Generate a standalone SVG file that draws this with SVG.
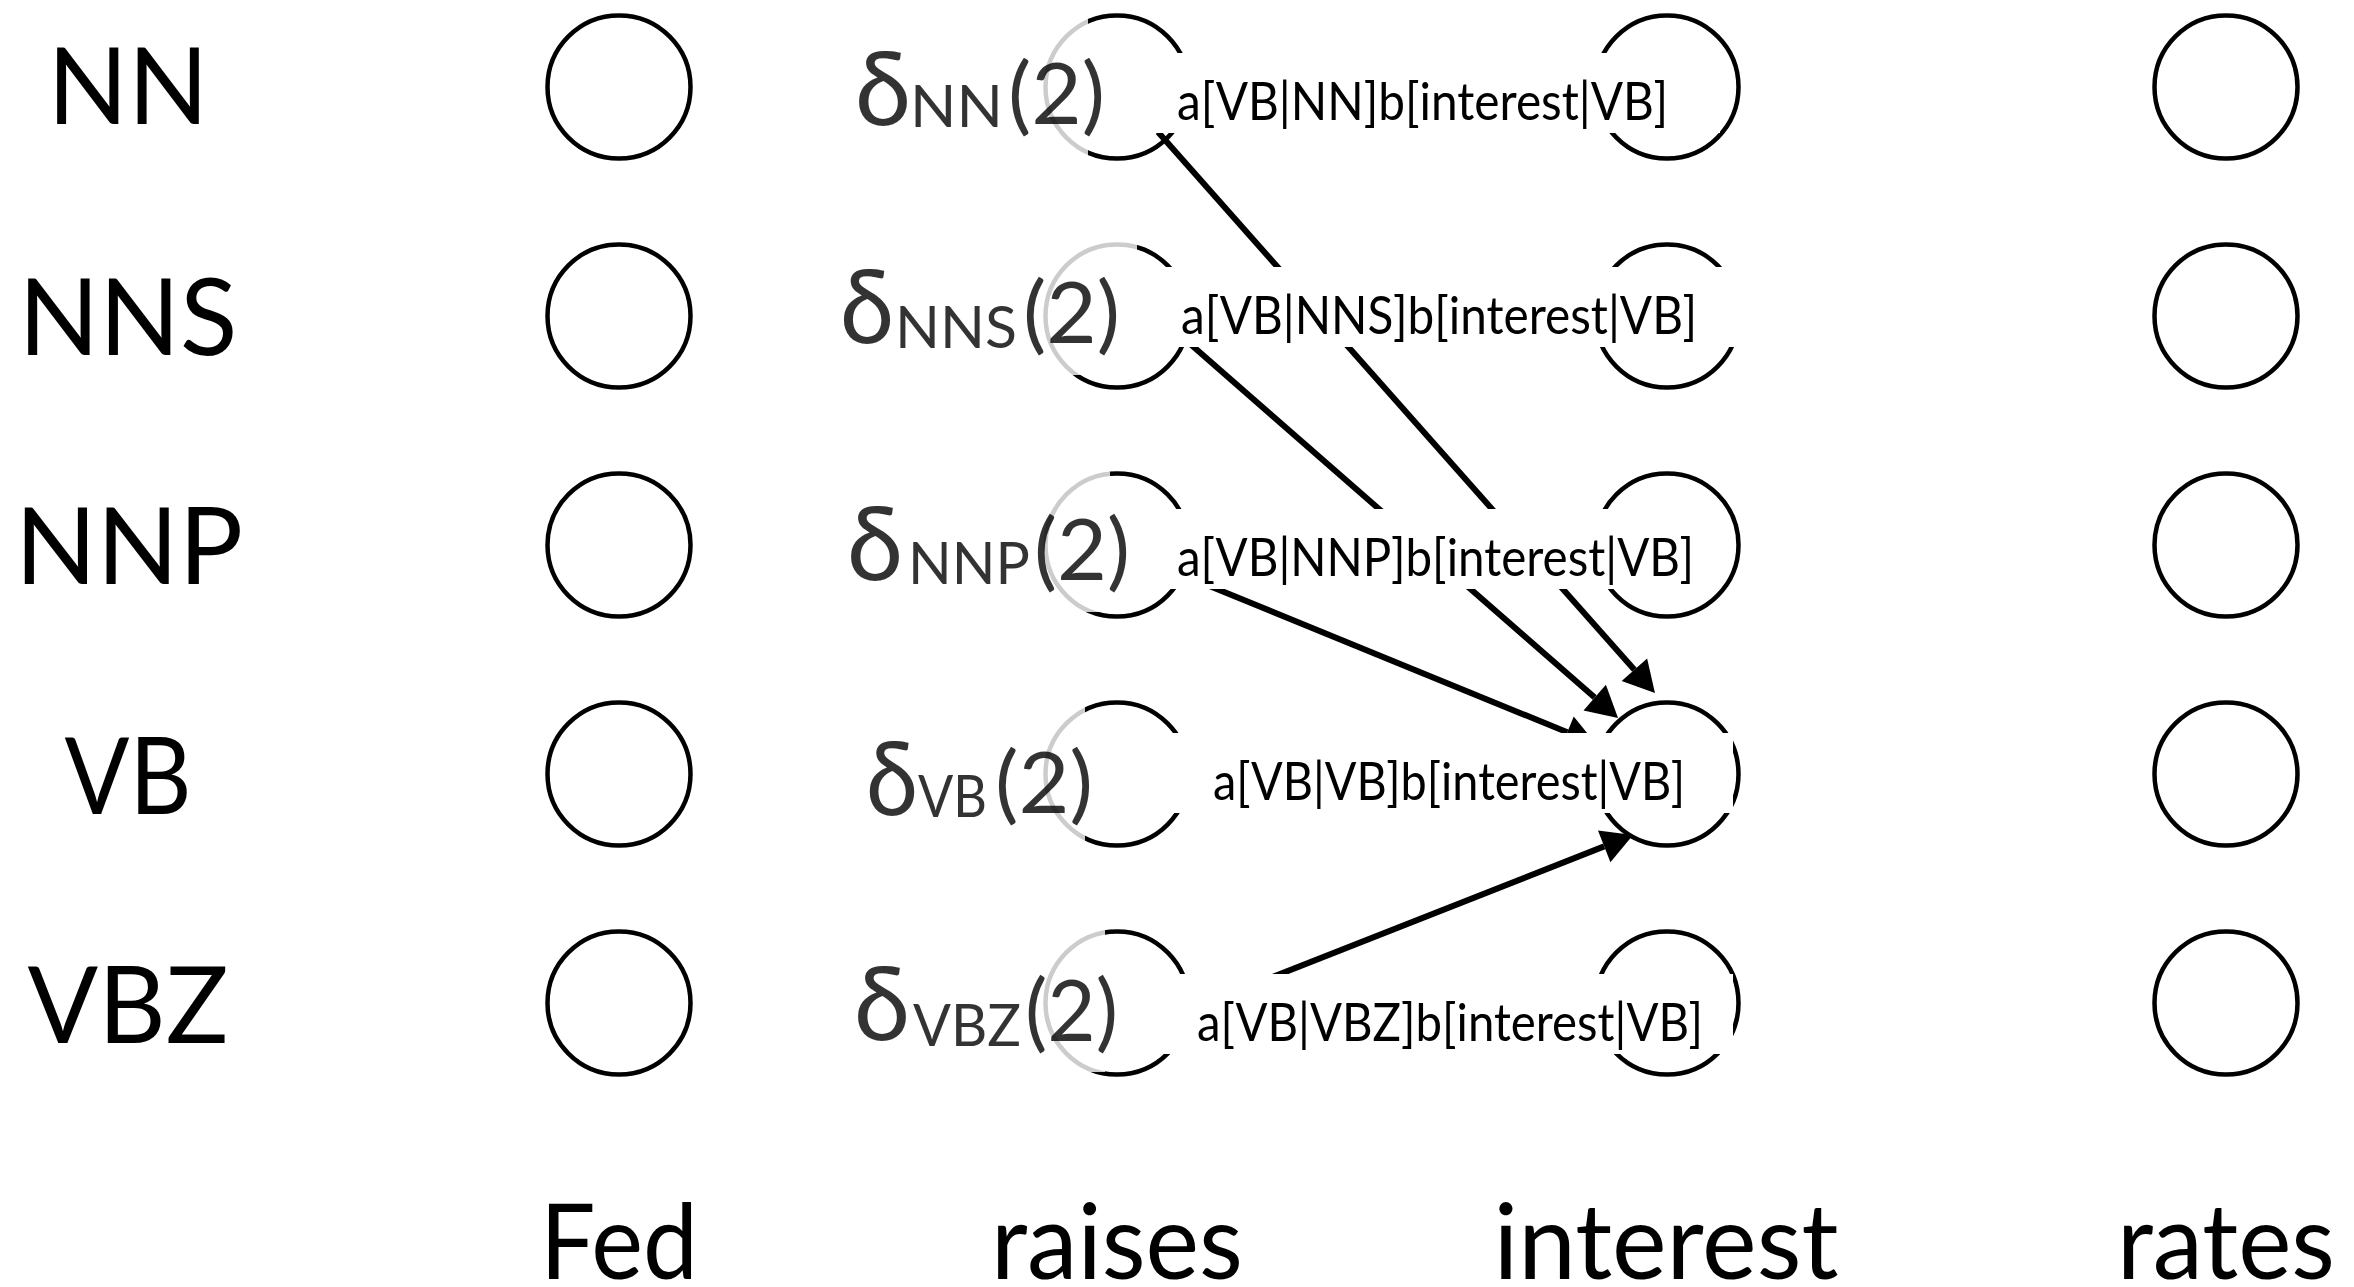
<svg xmlns="http://www.w3.org/2000/svg" width="2354" height="1287" viewBox="0 0 2354 1287">
  <defs>
    <style>
      .bg { fill: #ffffff; }
      .node circle { fill: none; stroke: #000000; stroke-width: 4.5; }
      .tag { font-family: Lato, "Noto Sans", sans-serif; font-size: 106px; fill: #000000; text-anchor: middle; }
      .word { font-family: Lato, "Noto Sans", sans-serif; font-size: 104px; fill: #000000; text-anchor: middle; }
      .edge { fill: none; stroke: #000000; stroke-width: 6; marker-end: url(#head); }
      .score-bg { fill: #ffffff; }
      .score { font-family: Lato, "Noto Sans", sans-serif; font-size: 52px; fill: #000000; }
      .delta-bg { fill: #ffffff; fill-opacity: 0.8; }
      .delta { font-family: Lato, "Noto Sans", sans-serif; fill: #000000; fill-opacity: 0.8; }
      .d-sym { font-size: 102px; }
      .d-sub { font-size: 58px; }
      .d-arg { font-size: 85px; }
    </style>
    <marker id="head" markerUnits="userSpaceOnUse" markerWidth="40" markerHeight="40" refX="0" refY="0" orient="auto" overflow="visible">
      <path d="M0,-17 L31,0 L0,17 Z" fill="#000000"/>
    </marker>
  </defs>

  <rect class="bg" x="0" y="0" width="2354" height="1287"/>

  <!-- tag names, one per lattice row -->
  <g id="tags">
    <text class="tag" x="128" y="124" textLength="161" lengthAdjust="spacingAndGlyphs">NN</text>
    <text class="tag" x="128" y="355" textLength="219" lengthAdjust="spacingAndGlyphs">NNS</text>
    <text class="tag" x="129" y="584" textLength="228" lengthAdjust="spacingAndGlyphs">NNP</text>
    <text class="tag" x="128" y="814" textLength="127" lengthAdjust="spacingAndGlyphs">VB</text>
    <text class="tag" x="128" y="1043" textLength="201" lengthAdjust="spacingAndGlyphs">VBZ</text>
  </g>

  <!-- words of the sentence, one per lattice column -->
  <g id="words">
    <text class="word" x="619" y="1279" textLength="158" lengthAdjust="spacingAndGlyphs">Fed</text>
    <text class="word" x="1117" y="1279" textLength="252" lengthAdjust="spacingAndGlyphs">raises</text>
    <text class="word" x="1666" y="1279" textLength="345" lengthAdjust="spacingAndGlyphs">interest</text>
    <text class="word" x="2226" y="1279" textLength="218" lengthAdjust="spacingAndGlyphs">rates</text>
  </g>

  <!-- lattice states: column = word, row = tag -->
  <g id="fed-NN" class="node"><circle cx="619" cy="87" r="71.5"/></g>
  <g id="fed-NNS" class="node"><circle cx="619" cy="316" r="71.5"/></g>
  <g id="fed-NNP" class="node"><circle cx="619" cy="545" r="71.5"/></g>
  <g id="fed-VB" class="node"><circle cx="619" cy="774" r="71.5"/></g>
  <g id="fed-VBZ" class="node"><circle cx="619" cy="1003" r="71.5"/></g>

  <g id="raises-NN" class="node"><circle cx="1117" cy="87" r="71.5"/></g>
  <g id="raises-NNS" class="node"><circle cx="1117" cy="316" r="71.5"/></g>
  <g id="raises-NNP" class="node"><circle cx="1117" cy="545" r="71.5"/></g>
  <g id="raises-VB" class="node"><circle cx="1117" cy="774" r="71.5"/></g>
  <g id="raises-VBZ" class="node"><circle cx="1117" cy="1003" r="71.5"/></g>

  <g id="interest-NN" class="node"><circle cx="1667" cy="87" r="71.5"/></g>
  <g id="interest-NNS" class="node"><circle cx="1667" cy="316" r="71.5"/></g>
  <g id="interest-NNP" class="node"><circle cx="1667" cy="545" r="71.5"/></g>
  <g id="interest-VB" class="node"><circle cx="1667" cy="774" r="71.5"/></g>
  <g id="interest-VBZ" class="node"><circle cx="1667" cy="1003" r="71.5"/></g>

  <g id="rates-NN" class="node"><circle cx="2226" cy="87" r="71.5"/></g>
  <g id="rates-NNS" class="node"><circle cx="2226" cy="316" r="71.5"/></g>
  <g id="rates-NNP" class="node"><circle cx="2226" cy="545" r="71.5"/></g>
  <g id="rates-VB" class="node"><circle cx="2226" cy="774" r="71.5"/></g>
  <g id="rates-VBZ" class="node"><circle cx="2226" cy="1003" r="71.5"/></g>

  <!-- transitions from every tag of "raises" into VB of "interest" -->
  <g id="edges">
    <path class="edge" d="M1158,132 L1634.4,669.8"/>
    <path class="edge" d="M1180,335 L1594.7,697.6"/>
    <path class="edge" d="M1180,574 L1567.3,732.3"/>
    <path class="edge" d="M1189,1010 L1604.2,846.4"/>
  </g>

  <!-- transition scores, on opaque white boxes -->
  <g id="scores">
    <g id="score-NN">
      <rect class="score-bg" x="1140" y="53" width="580" height="80"/>
      <text class="score" x="1177" y="120" textLength="491" lengthAdjust="spacingAndGlyphs">a[VB|NN]b[interest|VB]</text>
    </g>
    <g id="score-NNS">
      <rect class="score-bg" x="1140" y="267" width="610" height="80"/>
      <text class="score" x="1181" y="334" textLength="516" lengthAdjust="spacingAndGlyphs">a[VB|NNS]b[interest|VB]</text>
    </g>
    <g id="score-NNP">
      <rect class="score-bg" x="1140" y="509" width="580" height="80"/>
      <text class="score" x="1177" y="576" textLength="517" lengthAdjust="spacingAndGlyphs">a[VB|NNP]b[interest|VB]</text>
    </g>
    <g id="score-VB">
      <rect class="score-bg" x="1140" y="733" width="593" height="80"/>
      <text class="score" x="1213" y="800" textLength="472" lengthAdjust="spacingAndGlyphs">a[VB|VB]b[interest|VB]</text>
    </g>
    <g id="score-VBZ">
      <rect class="score-bg" x="1140" y="974" width="593" height="80"/>
      <text class="score" x="1197" y="1041" textLength="506" lengthAdjust="spacingAndGlyphs">a[VB|VBZ]b[interest|VB]</text>
    </g>
  </g>

  <!-- Viterbi values at "raises", on translucent boxes -->
  <g id="deltas">
    <g id="delta-NN">
      <rect class="delta-bg" x="850" y="13" width="238" height="144"/>
      <text class="delta d-sym" x="855" y="125" textLength="56" lengthAdjust="spacingAndGlyphs">δ</text>
      <text class="delta d-sub" x="910" y="127" textLength="93" lengthAdjust="spacingAndGlyphs">NN</text>
      <text class="delta d-arg" x="1008" y="124" textLength="97" lengthAdjust="spacingAndGlyphs">(2)</text>
    </g>
    <g id="delta-NNS">
      <rect class="delta-bg" x="835" y="231" width="302" height="144"/>
      <text class="delta d-sym" x="840" y="343" textLength="54" lengthAdjust="spacingAndGlyphs">δ</text>
      <text class="delta d-sub" x="895" y="348" textLength="122" lengthAdjust="spacingAndGlyphs">NNS</text>
      <text class="delta d-arg" x="1023" y="343" textLength="97" lengthAdjust="spacingAndGlyphs">(2)</text>
    </g>
    <g id="delta-NNP">
      <rect class="delta-bg" x="840" y="468" width="270" height="144"/>
      <text class="delta d-sym" x="847" y="580" textLength="56" lengthAdjust="spacingAndGlyphs">δ</text>
      <text class="delta d-sub" x="908" y="584" textLength="122" lengthAdjust="spacingAndGlyphs">NNP</text>
      <text class="delta d-arg" x="1034" y="580" textLength="96" lengthAdjust="spacingAndGlyphs">(2)</text>
    </g>
    <g id="delta-VB">
      <rect class="delta-bg" x="862" y="703" width="223" height="144"/>
      <text class="delta d-sym" x="866" y="815" textLength="52" lengthAdjust="spacingAndGlyphs">δ</text>
      <text class="delta d-sub" x="918" y="817" textLength="69" lengthAdjust="spacingAndGlyphs">VB</text>
      <text class="delta d-arg" x="995" y="813" textLength="98" lengthAdjust="spacingAndGlyphs">(2)</text>
    </g>
    <g id="delta-VBZ">
      <rect class="delta-bg" x="849" y="928" width="256" height="144"/>
      <text class="delta d-sym" x="854" y="1040" textLength="56" lengthAdjust="spacingAndGlyphs">δ</text>
      <text class="delta d-sub" x="913" y="1046" textLength="108" lengthAdjust="spacingAndGlyphs">VBZ</text>
      <text class="delta d-arg" x="1025" y="1041" textLength="93" lengthAdjust="spacingAndGlyphs">(2)</text>
    </g>
  </g>
</svg>
